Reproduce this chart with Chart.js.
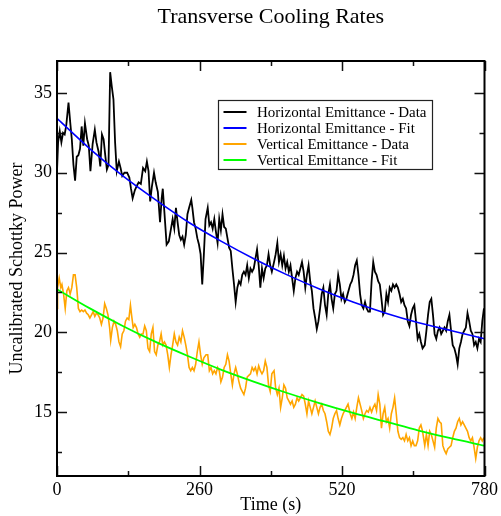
<!DOCTYPE html>
<html>
<head>
<meta charset="utf-8">
<script src="https://cdn.jsdelivr.net/npm/chart.js@4.4.0/dist/chart.umd.min.js"></script>
<style>
html,body{margin:0;padding:0;background:#fff;}
#wrap{width:501px;height:516px;}
</style>
</head>
<body>
<div id="wrap"><canvas id="c" width="501" height="516"></canvas></div>
<script>
// ---------- DATA ----------
const chartTitle = 'Transverse Cooling Rates';
const xAxisTitle = 'Time (s)';
const yAxisTitle = 'Uncalibrated Schottky Power';
const seriesLabels = ['Horizontal Emittance - Data','Horizontal Emittance - Fit','Vertical Emittance - Data','Vertical Emittance - Fit'];
const xTickLabels = [0, 260, 520, 780];
const yTickLabels = [15, 20, 25, 30, 35];

const timeH = [
 0,2,5,8,11,14,17,21,24,27, 30,33,36,39,42,45,48,51,55,58, 61,65,69,72,76,79,82,85,88,91,
 94,97,100,103,106,109,113,116,119,123, 128,132,135,138,142,146,149,153,157,161, 164,167,170,173,177,180,184,188,191,193, 196,
 200,204,208,211,214,217,220,223,226,229, 232,235,238,241,245,247,250,253,256,259, 262,265,268,271,275,278,281,284,287,290,
 293,296,299,302,305,308,311,314,317,320, 323,326,329,332,335,338,341,344,347,350, 353,356,359,362,365,368,371,374,377,380, 383,386,
 389,392,396,399,402,405,408,411,414,417, 420,423,426,429,432,435,438,441,444,447, 450,453,456,459,462,465,468,471,474,477,
 480,483,486,489,492,495,498,501,504,507, 510,513,516,519,522,525,528,531,535,538, 541,544,547,550,553,556,559,562,565,568, 571,574,577,580,583,586,
 589,592,595,598,601,604,607,610,613,616, 619,622,625,628,631,634,637,640,643,646, 649,652,655,658,661,664,667,671,674,677,
 680,683,686,689,692,695,698,701,704,707, 710,713,716,719,722,725,728,731,734,737, 740,743,746,749,752,755,758,761,764,767, 770,773,776,779
];
const horizData = [
 30.1,31.9,32.6,31.9,32.5,32.4,33.0,34.4,33.2,32.1, 30.5,29.5,31.0,31.1,31.5,32.9,31.7,33.1,32.1,31.7, 30.1,31.8,32.7,31.9,31.3,30.4,32.4,32.1,31.1,30.2,
 30.5,36.3,35.4,34.6,31.9,30.1,30.7,30.3,29.8,30.0, 30.0,29.7,29.0,28.4,28.9,29.2,29.4,29.3,30.3,30.1, 30.7,30.1,28.2,29.1,30.0,29.4,28.8,26.9,28.4,29.0, 27.5,
 25.5,25.7,26.5,27.1,26.5,27.8,26.9,26.1,25.8,26.0, 25.5,26.1,27.4,27.8,28.3,27.8,26.9,26.5,25.9,25.5, 24.9,23.0,24.9,27.1,27.8,26.7,26.9,26.5,27.1,26.3,
 25.6,27.1,26.4,27.4,26.6,26.5,25.9,25.3,25.1,24.0, 23.0,21.9,22.8,23.2,23.0,23.6,23.8,23.6,24.2,23.4, 24.0,23.8,24.0,24.6,25.2,24.2,22.8,24.0,23.4,24.0, 24.2,24.9,
 24.2,23.8,24.4,24.9,25.6,24.4,24.9,24.2,24.8,24.0, 24.4,23.8,24.2,23.4,22.6,23.4,23.8,23.6,24.0,24.4, 23.8,22.8,23.6,24.2,23.2,22.6,21.5,20.9,20.2,20.7,
 21.5,22.4,22.8,21.7,21.1,22.4,23.0,22.1,21.5,22.4, 22.6,23.6,23.0,22.1,22.4,21.9,22.1,22.5,23.0,23.2, 23.6,24.2,24.5,23.6,22.4,21.7,21.5,21.9,21.5,21.3, 21.3,23.2,24.4,23.8,23.6,23.2,
 23.0,22.1,21.1,21.3,22.4,21.9,22.8,22.6,23.0,22.8, 23.0,22.8,22.4,21.9,22.1,21.7,21.5,20.7,20.4,21.1, 21.5,21.7,20.7,19.6,19.9,19.4,19.0,19.2,20.1,21.1,
 21.9,22.1,21.1,19.9,19.6,20.1,20.3,19.9,20.1,20.3, 20.1,20.7,21.1,20.1,19.2,19.0,18.6,18.0,19.0,19.4, 19.9,20.1,20.3,21.2,20.7,20.1,19.9,19.2,19.4,19.0, 19.6,19.4,20.7,21.5
];

const timeV = [
 0,1,4,7,9,12,15,18,21,24, 27,30,33,36,39,42,45,48,51,54, 57,60,63,66,69,72,75,78,81,84, 87,90,93,96,98,101,104,107,110,113,
 116,119,122,125,128,131,134,136,139,142, 145,148,151,154,157,160,163,166,169,172, 175,178,181,184,187,190,193,196,
 199,202,205,208,211,214,217,220,223,226, 229,232,235,238,241,244,247,250,253,256, 259,262,265,268,272,275,278,281,284,287,
 290,293,296,299,302,305,308,311,314,317, 320,323,326,329,332,335,338,341,344,347, 350,353,356,359,362,365,368,371,374,377, 380,383,386,
 389,392,396,399,402,405,408,411,414,417, 420,423,426,429,432,435,438,441,444,447, 450,453,456,459,462,465,468,471,474,477,
 480,483,486,489,492,495,498,501,504,507, 510,513,516,519,522,525,528,531,535,538, 541,544,547,550,553,556,559,562,565,568, 571,574,577,580,583,586,
 589,592,595,598,601,604,607,610,613,616, 619,622,625,628,631,634,637,640,643,646, 649,652,655,658,661,664,667,671,674,677,
 680,683,686,689,692,695,698,701,704,707, 710,713,716,719,722,725,728,731,734,737, 740,743,746,749,752,755,758,761,764,767, 770,773,776,779
];
const vertData = [
 21.5,22.8,23.4,22.8,23.0,22.4,21.5,22.6,22.8,22.4, 22.8,23.6,23.6,22.8,21.5,21.3,21.4,21.3,21.4,21.2, 21.1,20.9,21.1,21.3,21.0,21.2,21.1,20.9,20.5,20.9, 21.8,21.5,21.1,20.3,19.5,20.3,20.7,20.5,20.1,19.4,
 19.1,19.9,20.1,20.7,20.9,20.8,21.7,21.1,20.3,20.5, 20.3,19.9,19.7,19.9,19.9,20.4,20.1,19.0,18.8,19.9, 20.3,18.8,18.6,19.2,19.4,19.9,19.2,19.4,
 19.2,18.6,17.8,18.6,19.2,19.9,19.4,19.2,19.7,19.4, 20.1,19.7,19.2,18.6,17.8,17.6,17.8,17.6,18.0,18.8, 19.4,18.6,18.0,18.4,18.6,18.6,17.6,17.8,17.4,17.6,
 17.4,17.8,17.6,16.9,17.2,17.8,18.0,18.6,18.2,17.4, 16.7,17.4,17.8,17.4,16.9,16.5,16.3,16.1,16.5,17.2, 17.3,17.4,17.8,17.6,17.8,17.4,17.9,17.6,17.4,17.6, 18.2,17.8,16.7,
 16.3,17.4,17.6,16.5,16.1,16.5,15.3,15.9,16.7,16.5, 15.9,15.7,15.5,15.7,15.3,15.5,15.9,15.7,15.9,16.1, 16.0,15.5,14.9,15.7,15.3,14.9,15.3,15.7,15.3,14.9,
 15.3,15.5,15.1,14.9,14.4,13.8,13.6,14.0,14.6,14.9, 15.1,14.6,14.2,14.6,14.9,15.1,15.3,15.5,14.9,14.6, 15.0,14.6,15.3,15.9,15.5,15.1,14.6,14.9,15.1,15.0, 15.3,15.0,15.3,15.5,15.1,16.1,
 15.5,14.0,14.9,15.3,14.4,14.6,14.0,14.9,15.3,15.9, 14.9,13.8,13.4,13.3,13.4,13.2,13.6,13.2,13.4,12.9, 13.2,12.9,12.9,13.2,14.0,14.2,13.8,12.9,13.6,12.9,
 13.8,13.6,13.2,12.8,14.0,14.6,14.4,14.3,12.9,12.6, 12.4,12.7,12.8,12.9,13.4,13.8,14.0,14.4,14.6,14.2, 14.4,14.2,14.0,13.8,13.4,13.2,13.4,12.8,12.1,12.8, 13.2,13.4,13.2,13.4
];

const fitTime  = [0, 60, 120, 180, 240, 300, 360, 420, 480, 540, 600, 660, 720, 780];
const horizFit = [33.4, 31.5, 29.8, 28.3, 26.9, 25.7, 24.6, 23.6, 22.7, 21.9, 21.2, 20.6, 20.1, 19.6];
const vertFit  = [22.7, 21.5, 20.4, 19.4, 18.5, 17.65, 16.9, 16.2, 15.55, 14.95, 14.4, 13.85, 13.35, 12.9];

// ---------- CHART ----------
const SERIF = "'Liberation Serif', 'Times New Roman', serif";
Chart.defaults.font.family = SERIF;
Chart.defaults.color = '#000';

function pts(xs, ys) { return xs.map((x, i) => ({x: x, y: ys[i]})); }

const isMajorX = v => xTickLabels.includes(v);
const isMajorY = v => yTickLabels.includes(v);

const frameTicks = {
  id: 'frameTicks',
  afterDatasetsDraw(chart) {
    const {ctx, chartArea: a, scales: {x, y}} = chart;
    ctx.save();
    ctx.strokeStyle = '#111';
    ctx.lineWidth = 1.5;
    ctx.beginPath();
    x.ticks.forEach(t => {
      const px = Math.round(x.getPixelForValue(t.value)) + 0.5;
      const len = isMajorX(t.value) ? 10 : 5;
      ctx.moveTo(px, a.bottom); ctx.lineTo(px, a.bottom - len);
      ctx.moveTo(px, a.top); ctx.lineTo(px, a.top + len);
    });
    y.ticks.forEach(t => {
      const py = Math.round(y.getPixelForValue(t.value)) + 0.5;
      const len = isMajorY(t.value) ? 10 : 5;
      ctx.moveTo(a.left, py); ctx.lineTo(a.left + len, py);
      ctx.moveTo(a.right, py); ctx.lineTo(a.right - len, py);
    });
    ctx.stroke();
    ctx.strokeStyle = '#000';
    ctx.lineWidth = 2;
    ctx.strokeRect(a.left, a.top, a.right - a.left, a.bottom - a.top);
    ctx.restore();
  }
};

const boxLegend = {
  id: 'boxLegend',
  afterDraw(chart) {
    const {ctx, chartArea: a} = chart;
    const x0 = Math.round(a.left + 161) + 0.5, y0 = Math.round(a.top + 39) + 0.5;
    const w = 214, h = 69;
    ctx.save();
    ctx.fillStyle = '#fff';
    ctx.fillRect(x0, y0, w, h);
    ctx.strokeStyle = '#222';
    ctx.lineWidth = 1.2;
    ctx.strokeRect(x0, y0, w, h);
    ctx.font = '15px ' + SERIF;
    ctx.textBaseline = 'middle';
    ctx.textAlign = 'left';
    chart.data.datasets.forEach((ds, i) => {
      const cy = y0 + 11.5 + i * 16;
      ctx.strokeStyle = ds.borderColor;
      ctx.lineWidth = 2;
      ctx.beginPath();
      ctx.moveTo(x0 + 5, cy); ctx.lineTo(x0 + 28, cy);
      ctx.stroke();
      ctx.fillStyle = '#000';
      ctx.fillText(ds.label, x0 + 38.5, cy + 1);
    });
    ctx.restore();
  }
};

const commonLine = {pointRadius: 0, pointHoverRadius: 0, fill: false, tension: 0};

new Chart(document.getElementById('c'), {
  type: 'line',
  data: {
    datasets: [
      Object.assign({label: seriesLabels[0], data: pts(timeH, horizData), borderColor: '#000000', borderWidth: 1.8, order: 2}, commonLine),
      Object.assign({label: seriesLabels[1], data: pts(fitTime, horizFit), borderColor: '#0000ff', borderWidth: 1.6, order: 0}, commonLine, {cubicInterpolationMode: 'monotone'}),
      Object.assign({label: seriesLabels[2], data: pts(timeV, vertData), borderColor: '#ffa500', borderWidth: 1.6, order: 3}, commonLine),
      Object.assign({label: seriesLabels[3], data: pts(fitTime, vertFit), borderColor: '#00ff00', borderWidth: 1.8, order: 1}, commonLine, {cubicInterpolationMode: 'monotone'})
    ]
  },
  options: {
    responsive: false,
    animation: false,
    devicePixelRatio: 1,
    layout: {padding: {left: 0, right: 14, top: 0, bottom: 0}},
    plugins: {
      legend: {display: false},
      tooltip: {enabled: false},
      title: {
        display: true,
        text: chartTitle,
        fullSize: false,
        color: '#000',
        font: {family: SERIF, size: 22, weight: 'normal', lineHeight: 1.2},
        padding: {top: 4, bottom: 30.6}
      }
    },
    scales: {
      x: {
        type: 'linear',
        min: 0, max: 780,
        grid: {display: false, drawTicks: false, tickLength: 0},
        border: {display: false},
        ticks: {
          stepSize: 130,
          padding: 3,
          maxRotation: 0,
          autoSkip: false,
          font: {family: SERIF, size: 18},
          color: '#000',
          callback: v => isMajorX(v) ? String(v) : ''
        },
        title: {display: true, text: xAxisTitle, color: '#000', font: {family: SERIF, size: 18, lineHeight: 1.2}, padding: {top: 0, bottom: 0}},
        afterFit: s => { s.height = 40; }
      },
      y: {
        type: 'linear',
        min: 11, max: 37,
        grid: {display: false, drawTicks: false, tickLength: 0},
        border: {display: false},
        afterBuildTicks: s => { s.ticks = s.ticks.filter(t => Math.abs(t.value / 2.5 - Math.round(t.value / 2.5)) < 1e-6); },
        ticks: {
          stepSize: 2.5,
          padding: 5,
          autoSkip: false,
          font: {family: SERIF, size: 18},
          color: '#000',
          callback: v => isMajorY(v) ? String(v) : ''
        },
        title: {display: true, text: yAxisTitle, color: '#000', font: {family: SERIF, size: 18, lineHeight: 1.2}, padding: {top: 6.5, bottom: 0}},
        afterFit: s => { s.width = 57; }
      }
    }
  },
  plugins: [frameTicks, boxLegend]
});
</script>
</body>
</html>
